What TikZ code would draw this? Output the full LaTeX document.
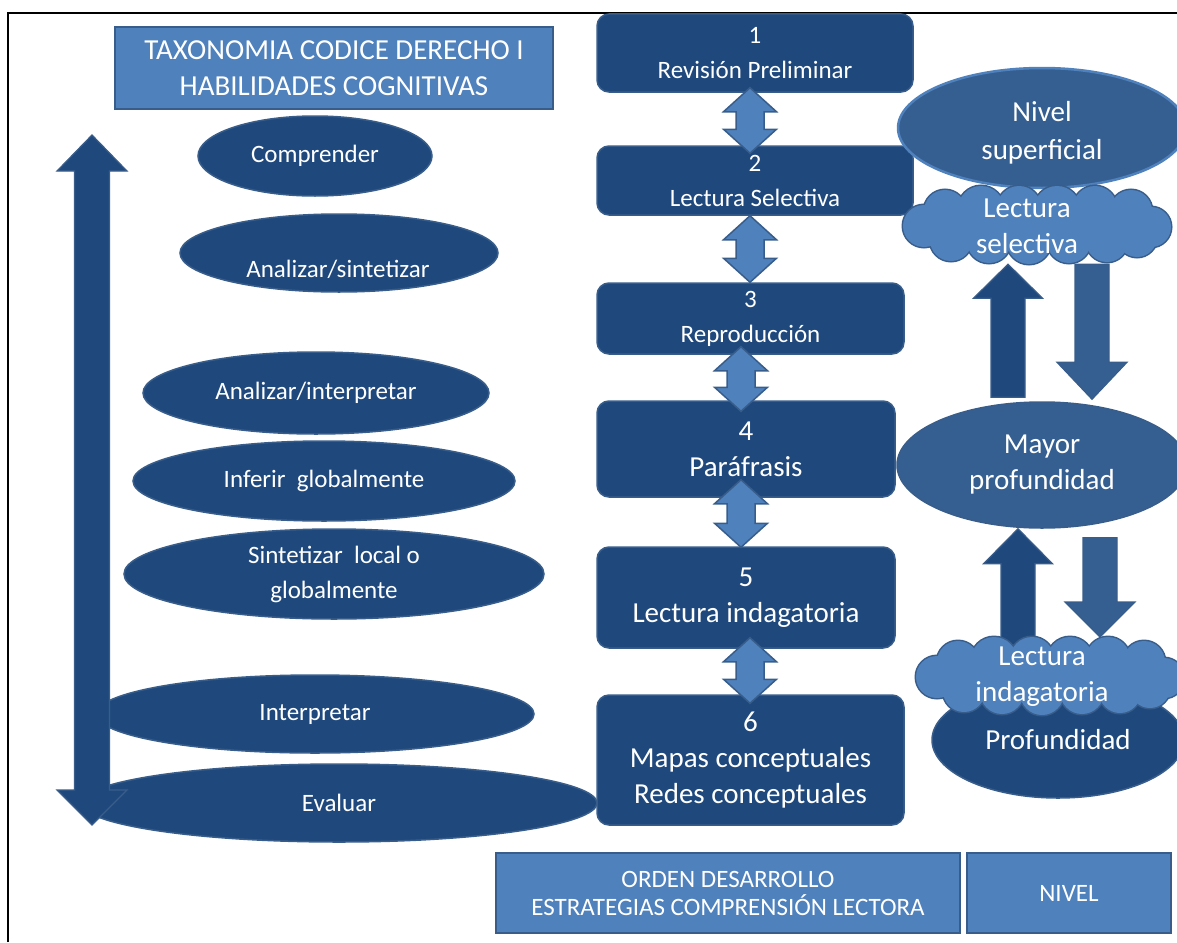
\documentclass[tikz,border=0pt]{standalone}
\usepackage{fontspec}
\setmainfont{Carlito}
\usetikzlibrary{shapes.geometric,calc}
\definecolor{navy}{HTML}{1F497D}
\definecolor{midblue}{HTML}{365F91}
\definecolor{lightblue}{HTML}{4F81BD}
\definecolor{edgeblue}{HTML}{385D8A}
\tikzset{
  txtS/.style={font={\fontsize{25}{35}\selectfont}},
  txtL/.style={font={\fontsize{29}{36}\selectfont}},
  whitetext/.style={text=white, align=center, inner sep=0pt},
  stepbox/.style={rectangle, rounded corners=12pt, fill=navy, draw=edgeblue, line width=1.5pt, whitetext},
  labelbox/.style={rectangle, fill=lightblue, draw=edgeblue, line width=1.5pt, whitetext},
  skill/.style={ellipse, fill=navy, draw=edgeblue, line width=1.5pt, whitetext, txtS},
  mayorst/.style={ellipse, fill=midblue, draw=edgeblue, line width=1.5pt, whitetext, txtL},
  profst/.style={ellipse, fill=navy, draw=edgeblue, line width=1.5pt, whitetext, txtL},
  cloudarea/.style={ellipse, inner sep=0pt, minimum width=270pt, minimum height=78pt},
  dblstyle/.style={fill=lightblue, draw=edgeblue, line width=1.5pt},
  uparr/.style={fill=navy, draw=edgeblue, line width=1.2pt},
  downarr/.style={fill=midblue, draw=edgeblue, line width=1.2pt},
}
% double block arrow between two boxes: #1 cx, #2 upper node, #3 inset, #4 lower node, #5 inset
\newcommand\dblarrow[5]{%
  \path[dblstyle] let \p1=(#2.south), \p2=(#4.north), \n1={\y1+#3pt}, \n2={\y2-#5pt} in
  (#1pt,\n1) -- ({#1pt+26.5pt},{\n1-24pt}) -- ({#1pt+14pt},{\n1-24pt}) -- ({#1pt+14pt},{\n2+24pt})
  -- ({#1pt+26.5pt},{\n2+24pt}) -- (#1pt,\n2) -- ({#1pt-26.5pt},{\n2+24pt}) -- ({#1pt-14pt},{\n2+24pt})
  -- ({#1pt-14pt},{\n1-24pt}) -- ({#1pt-26.5pt},{\n1-24pt}) -- cycle;}
% single block arrow: #1 style, #2 cx, #3 tail anchor, #4 tail dy, #5 tip anchor, #6 tip dy, #7 signed head length, #8 head half width
\newcommand\barrow[8]{%
  \path[#1] let \p1=(#3), \p2=(#5), \n1={\y1+#4pt}, \n2={\y2+#6pt}, \n3={\n2-(#7pt)} in
  ({#2pt-17pt},\n1) -- ({#2pt-17pt},\n3) -- ({#2pt-#8pt},\n3) -- (#2pt,\n2) -- ({#2pt+#8pt},\n3)
  -- ({#2pt+17pt},\n3) -- ({#2pt+17pt},\n1) -- cycle;}
% cloud made of puffs around a named node
\newcommand\puffcloud[1]{%
  \foreach \dx/\dy/\r in {-92/-14/21,-56/-16/23,-18/-17/22,20/-16/23,58/-17/22,94/-14/21,-113/1/21,114/2/20,-86/15/21,-48/16/22,-8/17/22,32/16/22,70/16/21,100/12/20}
    {\draw[edgeblue, line width=3pt] ($(#1)+(\dx,\dy)$) circle (\r);}
  \foreach \dx/\dy/\r in {-92/-14/21,-56/-16/23,-18/-17/22,20/-16/23,58/-17/22,94/-14/21,-113/1/21,114/2/20,-86/15/21,-48/16/22,-8/17/22,32/16/22,70/16/21,100/12/20}
    {\fill[lightblue] ($(#1)+(\dx,\dy)$) circle (\r);}
  \fill[lightblue] (#1) ellipse (100 and 20);}
\begin{document}
\begin{tikzpicture}[x=1pt,y=-1pt]
\useasboundingbox (0,0) rectangle (1177,942);
% frame
\draw[line width=2pt, black] (8,942) -- (8,13) -- (1177,13);
% title
\node[labelbox, txtL, minimum width=438pt, minimum height=82pt] (title) at (334,68) {TAXONOMIA CODICE DERECHO I\\HABILIDADES COGNITIVAS};
% left ellipses
\node[skill, minimum width=234pt, minimum height=80pt] (comp) at (315,156) {Comprender};
\node[skill, minimum width=318pt, minimum height=78pt] (anasin) at (339,253) {};
\node[whitetext, txtS] (anasint) at (338,269) {Analizar/sintetizar};
\node[skill, minimum width=346pt, minimum height=82pt] (anaint) at (316,393) {Analizar/interpretar};
\node[skill, minimum width=382pt, minimum height=80pt] (infer) at (324,481) {Inferir\ \ globalmente};
\node[skill, minimum width=420pt, minimum height=90pt] (sint) at (334,574) {Sintetizar\ \ local o\\globalmente};
\node[skill, minimum width=438pt, minimum height=78pt] (interp) at (315,714) {Interpretar};
\node[skill, minimum width=516pt, minimum height=78pt] (eval) at (339,803) {Evaluar};
% left big double arrow
\fill[navy, draw=edgeblue, line width=1.2pt] (92,135) -- (127,171) -- (109.5,171) -- (109.5,790) -- (127,790)
  -- (92,825) -- (57,790) -- (74.5,790) -- (74.5,171) -- (57,171) -- cycle;
% step boxes
\node[stepbox, txtS, minimum width=316pt, minimum height=78pt] (b1) at (755,53) {1\\Revisión Preliminar};
\node[stepbox, txtS, minimum width=316pt, minimum height=69pt] (b2) at (755,180.5) {2\\Lectura Selectiva};
\node[stepbox, txtS, minimum width=307pt, minimum height=71pt] (b3) at (750.5,318.5) {3\\Reproducción};
\node[stepbox, txtL, minimum width=298pt, minimum height=96pt] (b4) at (746,449) {4\\Paráfrasis};
\node[stepbox, txtL, minimum width=298pt, minimum height=101pt] (b5) at (746,597.5) {5\\Lectura indagatoria};
\node[stepbox, txtL, minimum width=307pt, minimum height=130pt] (b6) at (750.5,760) {6\\Mapas conceptuales\\Redes conceptuales};
\dblarrow{750}{b1}{5}{b2}{8}
\dblarrow{750}{b2}{0}{b3}{0}
\dblarrow{741}{b3}{8}{b4}{11}
\dblarrow{741}{b4}{18}{b5}{1}
\dblarrow{750}{b5}{11}{b6}{9}
% right column
\node[ellipse, fill=midblue, draw=lightblue, line width=2.5pt, minimum width=288pt, minimum height=120pt] (nivel) at (1042,128) {};
\node[whitetext, font={\fontsize{29}{38}\selectfont}] (nivelt) at (1042,133) {Nivel\\superficial};
\node[cloudarea] (cl1) at (1037,225) {};
\puffcloud{cl1}
\node[whitetext, txtL] (cl1t) at (1027,226) {Lectura\\selectiva};
\node[mayorst, minimum width=290pt, minimum height=126pt] (mayor) at (1042,465) {Mayor\\profundidad};
\coordinate (cl2top) at (1050,637);
\barrow{uparr}{1008}{mayor.north}{4}{cl1.south}{0}{34}{34.5}
\barrow{downarr}{1092}{cl1.south}{0}{mayor.north}{2}{-37}{35}
\barrow{uparr}{1018}{cl2top}{-8}{mayor.south}{0}{35}{34.5}
\barrow{downarr}{1100}{mayor.south}{-9}{cl2top}{0}{-35}{35}
\node[profst, minimum width=252pt, minimum height=116pt] (prof) at (1058,740) {Profundidad};
\node[cloudarea] (cl2) at (1050,676) {};
\puffcloud{cl2}
\node[whitetext, txtL] (cl2t) at (1042,677) {Lectura\\indagatoria};
% bottom labels
\node[labelbox, font={\fontsize{25}{28}\selectfont}, minimum width=464pt, minimum height=80pt] (orden) at (728,893) {ORDEN DESARROLLO\\ESTRATEGIAS COMPRENSIÓN LECTORA};
\node[labelbox, txtS, minimum width=204pt, minimum height=80pt] (nivelb) at (1069,893) {NIVEL};
\end{tikzpicture}
\end{document}
